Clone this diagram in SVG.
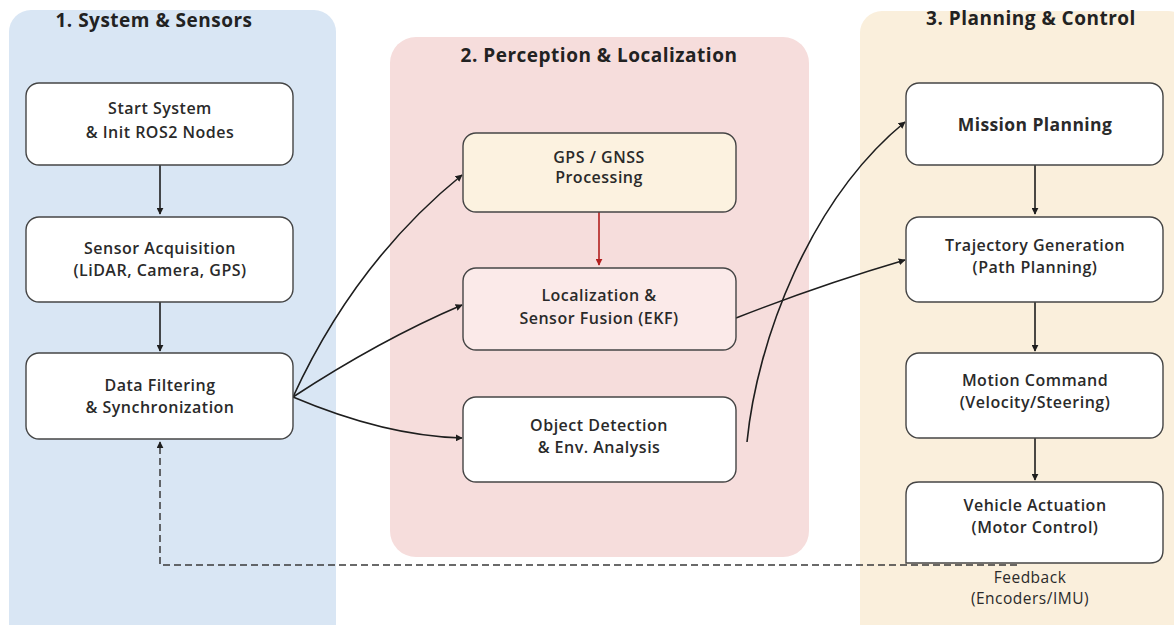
<svg xmlns="http://www.w3.org/2000/svg" width="1174" height="625" viewBox="0 0 1174 625">
<style>
.title{font-family:"Open Sans","Liberation Sans",sans-serif;font-weight:700;font-size:19px;letter-spacing:0.5px;fill:#222;text-anchor:middle}
.lbl{font-family:"Open Sans","Liberation Sans",sans-serif;font-weight:600;font-size:16px;letter-spacing:0.5px;fill:#2a2a2a;text-anchor:middle}
.lblb{font-family:"Open Sans","Liberation Sans",sans-serif;font-weight:700;font-size:17.5px;letter-spacing:0.4px;fill:#2a2a2a;text-anchor:middle}
.fb{font-family:"Open Sans","Liberation Sans",sans-serif;font-weight:500;font-size:15.5px;letter-spacing:0.5px;fill:#2a2a2a;text-anchor:middle}
.box{fill:#ffffff;stroke:#454545;stroke-width:1.4}
.edge{fill:none;stroke:#1e1e1e;stroke-width:1.6}
</style>
<defs>
<marker id="ah" viewBox="0 0 10 10" refX="9" refY="5" markerWidth="7" markerHeight="7" markerUnits="userSpaceOnUse" orient="auto">
<path d="M0,0 L10,5 L0,10 z" fill="#1e1e1e"/>
</marker>
<marker id="ahr" viewBox="0 0 10 10" refX="9" refY="5" markerWidth="7" markerHeight="7" markerUnits="userSpaceOnUse" orient="auto">
<path d="M0,0 L10,5 L0,10 z" fill="#b3201f"/>
</marker>
</defs>
<rect width="1174" height="625" fill="#ffffff"/>
<g id="panel1">
<rect x="9" y="10" width="327" height="640" rx="22" fill="#d9e6f4"/>
<text class="title" x="154" y="27">1. System &amp; Sensors</text>
</g>
<g id="panel2">
<rect x="390" y="37" width="419" height="520" rx="26" fill="#f6dddc"/>
<text class="title" x="599" y="62">2. Perception &amp; Localization</text>
</g>
<g id="panel3">
<rect x="860" y="11" width="330" height="640" rx="22" fill="#faefdc"/>
<text class="title" x="1031" y="25">3. Planning &amp; Control</text>
</g>
<g id="connectors">
<path class="edge" d="M160,165 V214" marker-end="url(#ah)"/>
<path class="edge" d="M160,302 V351" marker-end="url(#ah)"/>
<path class="edge" d="M293,397 Q355,262 462,175" marker-end="url(#ah)"/>
<path class="edge" d="M293,397 Q380,340 462,305" marker-end="url(#ah)"/>
<path class="edge" d="M293,397 Q385,436 462,438" marker-end="url(#ah)"/>
<path d="M599,212 V265" fill="none" stroke="#b3201f" stroke-width="1.6" marker-end="url(#ahr)"/>
<path class="edge" d="M736,318 Q820,285 905,260" marker-end="url(#ah)"/>
<path class="edge" d="M747,442 C757,340 810,200 905,122" marker-end="url(#ah)"/>
<path class="edge" d="M1035,165 V214" marker-end="url(#ah)"/>
<path class="edge" d="M1035,302 V351" marker-end="url(#ah)"/>
<path class="edge" d="M1035,438 V480" marker-end="url(#ah)"/>
<path d="M1017,565 H160 V442" fill="none" stroke="#3a3a3a" stroke-width="1.5" stroke-dasharray="7 4" marker-end="url(#ah)"/>
</g>
<g id="start">
<rect class="box" x="26" y="83" width="267" height="82" rx="13"/>
<text class="lbl" x="160" y="114">Start System</text>
<text class="lbl" x="160" y="138">&amp; Init ROS2 Nodes</text>
</g>
<g id="sensor">
<rect class="box" x="26" y="217" width="267" height="85" rx="13"/>
<text class="lbl" x="160" y="254">Sensor Acquisition</text>
<text class="lbl" x="160" y="276">(LiDAR, Camera, GPS)</text>
</g>
<g id="filter">
<rect class="box" x="26" y="353" width="267" height="86" rx="13"/>
<text class="lbl" x="160" y="391">Data Filtering</text>
<text class="lbl" x="160" y="413">&amp; Synchronization</text>
</g>
<g id="gps">
<rect class="box" x="463" y="133" width="273" height="79" rx="13" style="fill:#fcf2e0"/>
<text class="lbl" x="599" y="163">GPS / GNSS</text>
<text class="lbl" x="599" y="183">Processing</text>
</g>
<g id="loc">
<rect class="box" x="463" y="268" width="273" height="82" rx="13" style="fill:#fbeae9"/>
<text class="lbl" x="599" y="301">Localization &amp;</text>
<text class="lbl" x="599" y="324">Sensor Fusion (EKF)</text>
</g>
<g id="obj">
<rect class="box" x="463" y="397" width="273" height="85" rx="13"/>
<text class="lbl" x="599" y="431">Object Detection</text>
<text class="lbl" x="599" y="453">&amp; Env. Analysis</text>
</g>
<g id="mission">
<rect class="box" x="906" y="83" width="257" height="82" rx="13"/>
<text class="lblb" x="1035" y="131">Mission Planning</text>
</g>
<g id="traj">
<rect class="box" x="906" y="217" width="257" height="85" rx="13"/>
<text class="lbl" x="1035" y="251">Trajectory Generation</text>
<text class="lbl" x="1035" y="273">(Path Planning)</text>
</g>
<g id="motion">
<rect class="box" x="906" y="353" width="257" height="85" rx="13"/>
<text class="lbl" x="1035" y="386">Motion Command</text>
<text class="lbl" x="1035" y="408">(Velocity/Steering)</text>
</g>
<g id="actuation">
<path class="box" d="M906,563 V495 Q906,482 919,482 H1150 Q1163,482 1163,495 V550 Q1163,563 1150,563 Z"/>
<text class="lbl" x="1035" y="511">Vehicle Actuation</text>
<text class="lbl" x="1035" y="533">(Motor Control)</text>
</g>
<g id="feedback">
<text class="fb" x="1030" y="583">Feedback</text>
<text class="fb" x="1030" y="604">(Encoders/IMU)</text>
</g>
</svg>
